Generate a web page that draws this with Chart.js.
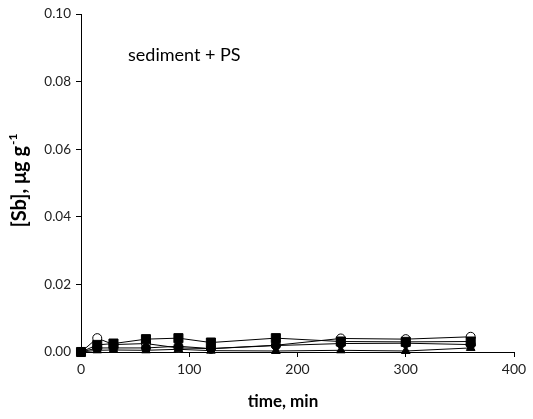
<!DOCTYPE html>
<html>
<head>
<meta charset="utf-8">
<script src="https://cdn.jsdelivr.net/npm/chart.js@4"></script>
<style>
  html, body { margin: 0; padding: 0; background: #fff; }
  #wrap { width: 533px; height: 419px; }
</style>
</head>
<body>
<div id="wrap"><canvas id="sbChart" width="533" height="419"></canvas></div>
<script>
// time points, min
const times = [0, 15, 30, 60, 90, 120, 180, 240, 300, 360];

// [Sb], ug/g for each series
const openCircles   = [0, 0.0041, 0.0022, 0.0025, 0.0012, 0.0010, 0.0020, 0.0040, 0.0038, 0.0045];
const filledCircles = [0, 0.0012, 0.0012, 0.0012, 0.0017, 0.0010, 0.0019, 0.0025, 0.0026, 0.0022];
const filledSquares = [0, 0.0021, 0.0025, 0.0038, 0.0041, 0.0028, 0.0041, 0.0031, 0.0030, 0.0031];
const filledTriangles = [0, 0.0005, 0.0006, 0.0005, 0.0008, 0.0004, 0.0003, 0.0005, 0.0003, 0.0012];

const yTicks = [0, 0.02, 0.04, 0.06, 0.08, 0.10];
const xTicks = [0, 100, 200, 300, 400];

const FONT = 'Lato, "Open Sans", sans-serif';

function toPoints(vals) {
    return times.map((t, i) => ({ x: t, y: vals[i] }));
}

function series(label, vals, style, radius, fill, order) {
    return {
        label: label,
        data: toPoints(vals),
        borderColor: '#000',
        borderWidth: 1,
        pointStyle: style,
        pointRadius: radius,
        pointBackgroundColor: fill,
        pointBorderColor: '#000',
        pointBorderWidth: 1,
        tension: 0,
        clip: false,
        order: order
    };
}

// axis titles (y one has a superscript) and the in-plot label
const annotations = {
    id: 'annotations',
    afterDraw(chart) {
        const c = chart.ctx;
        const area = chart.chartArea;
        c.save();
        c.fillStyle = '#000';
        c.textBaseline = 'middle';
        c.font = '18px ' + FONT;
        c.fillText('sediment + PS', 128, 55);

        c.font = 'bold 17px ' + FONT;
        c.textAlign = 'center';
        c.fillText('time, min', 283, 402);

        // rotated y title
        c.translate(20, (area.top + area.bottom) / 2 - 2);
        c.rotate(-Math.PI / 2);
        const main = '[Sb], \u03bcg g';
        c.font = 'bold 12px ' + FONT;
        const supW = c.measureText('-1').width;
        c.font = 'bold 20px ' + FONT;
        const mainW = c.measureText(main).width;
        const start = -(mainW + supW) / 2;
        c.textAlign = 'left';
        c.fillText(main, start, 0);
        c.font = 'bold 12px ' + FONT;
        c.fillText('-1', start + mainW + 1, -7);
        c.restore();
    }
};

// higher order is drawn first, so squares end up on top
new Chart(document.getElementById('sbChart'), {
    type: 'line',
    data: {
        datasets: [
            series('open circles', openCircles, 'circle', 4.5, '#fff', 4),
            series('triangles', filledTriangles, 'triangle', 5, '#000', 3),
            series('filled circles', filledCircles, 'circle', 4.5, '#000', 2),
            series('squares', filledSquares, 'rect', 6.4, '#000', 1)
        ]
    },
    plugins: [annotations],
    options: {
        responsive: false,
        animation: false,
        layout: { padding: { top: 14, right: 19, left: 0, bottom: 0 } },
        plugins: {
            legend: { display: false },
            tooltip: { enabled: false }
        },
        scales: {
            x: {
                type: 'linear',
                min: 0,
                max: 400,
                afterBuildTicks: (axis) => { axis.ticks = xTicks.map(v => ({ value: v })); },
                afterFit: (axis) => { axis.height = 67; },
                grid: {
                    drawOnChartArea: false,
                    drawTicks: true,
                    tickLength: 5,
                    tickColor: '#000',
                    color: '#000'
                },
                border: { display: true, color: '#000', width: 1 },
                ticks: {
                    color: '#222',
                    font: { family: FONT, size: 14 },
                    padding: 4,
                    maxRotation: 0
                }
            },
            y: {
                type: 'linear',
                min: 0,
                max: 0.1,
                afterBuildTicks: (axis) => { axis.ticks = yTicks.map(v => ({ value: v })); },
                afterFit: (axis) => { axis.width = 81; },
                grid: {
                    drawOnChartArea: false,
                    drawTicks: true,
                    tickLength: 5,
                    tickColor: '#000',
                    color: '#000'
                },
                border: { display: true, color: '#000', width: 1 },
                ticks: {
                    color: '#222',
                    font: { family: FONT, size: 13.5 },
                    padding: 5,
                    callback: (v) => v.toFixed(2)
                }
            }
        }
    }
});
</script>
</body>
</html>
